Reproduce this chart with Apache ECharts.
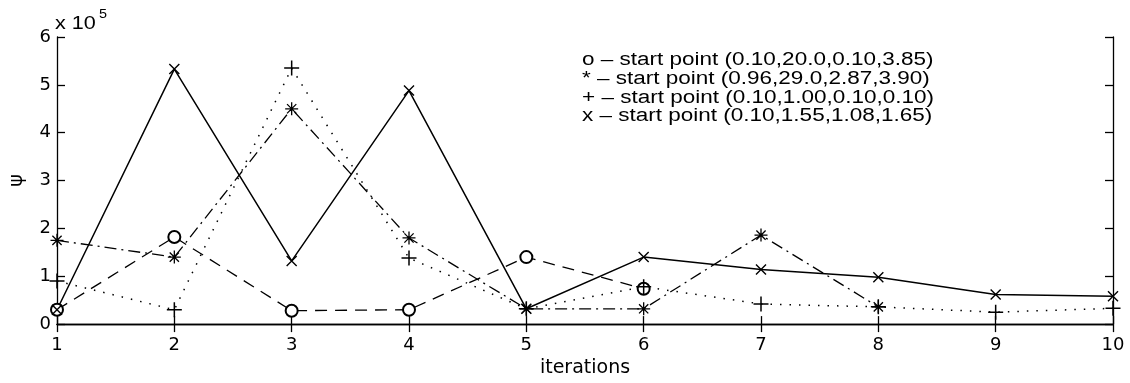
<!DOCTYPE html>
<html>
<head>
<meta charset="utf-8">
<script src="https://cdn.jsdelivr.net/npm/echarts@6/dist/echarts.min.js"></script>
<style>
  html, body { margin: 0; padding: 0; background: #fff; }
  #chart { width: 1130px; height: 383px; }
</style>
</head>
<body>
<div id="chart"></div>
<script>
// iterations 1..10, values of psi in units of 10^5
const iterations = [1, 2, 3, 4, 5, 6, 7, 8, 9, 10];
const seriesO    = [0.30, 1.82, 0.28, 0.30, 1.40, 0.74];
const seriesStar = [1.75, 1.40, 4.50, 1.80, 0.32, 0.32, 1.86, 0.36];
const seriesPlus = [0.90, 0.30, 5.35, 1.38, 0.32, 0.78, 0.42, 0.36, 0.25, 0.33];
const seriesX    = [0.30, 5.33, 1.32, 4.88, 0.32, 1.40, 1.14, 0.98, 0.62, 0.58];
const yTicks = [0, 1, 2, 3, 4, 5, 6];
const legendLines = [
  'o \u2013 start point (0.10,20.0,0.10,3.85)',
  '* \u2013 start point (0.96,29.0,2.87,3.90)',
  '+ \u2013 start point (0.10,1.00,0.10,0.10)',
  'x \u2013 start point (0.10,1.55,1.08,1.65)'
];

const pair = (arr) => arr.map((v, i) => [iterations[i], v]);

const PLUS = 'path://M-1,-10L1,-10L1,10L-1,10ZM-10,-1L10,-1L10,1L-10,1Z';
const XMARK = 'path://M-7.8,-6.4L-6.4,-7.8L7.8,6.4L6.4,7.8ZM6.4,-7.8L7.8,-6.4L-6.4,7.8L-7.8,6.4Z';
const STAR = 'path://M-1,-10L1,-10L1,10L-1,10ZM-10,-1L10,-1L10,1L-10,1ZM-7.8,-6.4L-6.4,-7.8L7.8,6.4L6.4,7.8ZM6.4,-7.8L7.8,-6.4L-6.4,7.8L-7.8,6.4Z';

const FONT = 'DejaVu Sans';
const chart = echarts.init(document.getElementById('chart'), null, { renderer: 'canvas' });

const axisLine = { show: true, lineStyle: { color: '#000', width: 1.3 } };
const tickIn = { show: true, inside: true, length: 8, lineStyle: { color: '#000', width: 1.3 } };

chart.setOption({
  animation: false,
  backgroundColor: '#fff',
  grid: { left: 55, right: 17, top: 37, bottom: 54, show: false },
  xAxis: [{
    type: 'value', min: 1, max: 10, interval: 1, position: 'bottom',
    name: 'iterations', nameLocation: 'middle', nameGap: 33,
    nameTextStyle: { fontFamily: FONT, fontSize: 19, color: '#000' },
    axisLine: axisLine, axisTick: tickIn, splitLine: { show: false },
    axisLabel: { fontFamily: FONT, fontSize: 18, color: '#000', margin: 12 }
  }, {
    type: 'value', min: 1, max: 10, interval: 1, position: 'top',
    axisLine: axisLine, axisTick: tickIn, splitLine: { show: false },
    axisLabel: { show: false }
  }],
  yAxis: [{
    type: 'value', min: yTicks[0], max: yTicks[yTicks.length - 1], interval: 1, position: 'left',
    name: '\u03c8', nameLocation: 'middle', nameGap: 30, nameRotate: 90,
    nameTextStyle: { fontFamily: FONT, fontSize: 19, color: '#000' },
    axisLine: axisLine, axisTick: tickIn, splitLine: { show: false },
    axisLabel: { fontFamily: FONT, fontSize: 18, color: '#000', margin: 6 }
  }, {
    type: 'value', min: yTicks[0], max: yTicks[yTicks.length - 1], interval: 1, position: 'right',
    axisLine: axisLine, axisTick: tickIn, splitLine: { show: false },
    axisLabel: { show: false }
  }],
  graphic: [
    { type: 'text', left: 55, top: 15, style: { text: 'x 10', fontFamily: 'Liberation Sans', fontSize: 18, fill: '#000' }, scaleX: 1.2 },
    { type: 'text', left: 99, top: 9, style: { text: '5', fontFamily: 'Liberation Sans', fontSize: 12, fill: '#000' }, scaleX: 1.2 },
    { type: 'text', left: 582, top: 51, style: { text: legendLines.join('\n'), fontFamily: 'Liberation Sans', fontSize: 18, lineHeight: 18.7, fill: '#000' }, scaleX: 1.25 }
  ],
  series: [
    {
      name: 'o', type: 'line', data: pair(seriesO),
      symbol: 'emptyCircle', symbolSize: 12,
      itemStyle: { color: '#000', borderWidth: 1.3 },
      lineStyle: { color: '#000', width: 1.3, type: [12, 8] }
    },
    {
      name: '*', type: 'line', data: pair(seriesStar),
      symbol: STAR, symbolSize: 13,
      itemStyle: { color: '#000', borderWidth: 0 },
      lineStyle: { color: '#000', width: 1.3, type: [12, 5, 2, 5] }
    },
    {
      name: '+', type: 'line', data: pair(seriesPlus),
      symbol: PLUS, symbolSize: 15,
      itemStyle: { color: '#000', borderWidth: 0 },
      lineStyle: { color: '#000', width: 1.5, type: [1.5, 8] }
    },
    {
      name: 'x', type: 'line', data: pair(seriesX),
      symbol: XMARK, symbolSize: 11,
      itemStyle: { color: '#000', borderWidth: 0 },
      lineStyle: { color: '#000', width: 1.5, type: 'solid' }
    }
  ]
});
</script>
</body>
</html>
